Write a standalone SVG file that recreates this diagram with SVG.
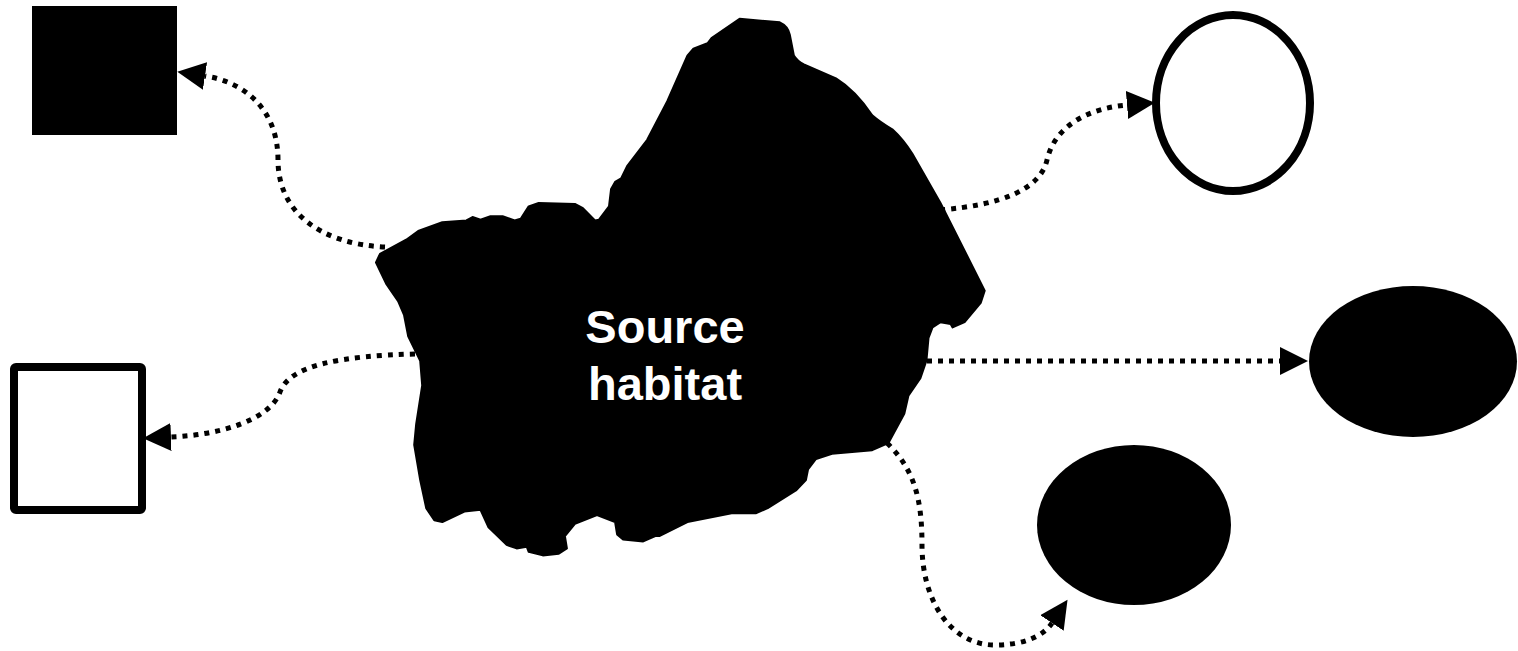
<svg xmlns="http://www.w3.org/2000/svg" width="1518" height="651" viewBox="0 0 1518 651">
<style>
.conn{fill:none;stroke:#000;stroke-width:5;stroke-dasharray:5 6;marker-end:url(#ah)}
.lbl{font-family:"Liberation Sans",Arial,sans-serif;font-weight:bold;font-size:47px;fill:#fff;text-anchor:middle}
</style>
<defs>
<marker id="ah" markerUnits="userSpaceOnUse" markerWidth="30" markerHeight="30" refX="0" refY="14" orient="auto" viewBox="0 0 30 30">
<path d="M0,0 L28,14 L0,28 Z" fill="#000"/>
</marker>
</defs>
<rect width="1518" height="651" fill="#fff"/>
<g id="connectors">
<path class="conn" d="M385,247 C320,244 278,212 278,160 C278,110 245,82 205,76"/>
<path class="conn" d="M415,354 C340,356 290,365 280,392 C270,420 220,435 171,437"/>
<path class="conn" d="M940,210 C1000,205 1040,190 1047,160 C1055,125 1090,108 1127,105"/>
<path class="conn" d="M927,361 L1280,361"/>
<path class="conn" d="M887,443 C915,470 922,500 922,545 C922,600 950,645 995,645 C1020,645 1042,638 1052,623"/>
</g>
<g id="source-habitat">
<path fill="#000" stroke="#000" stroke-width="2" stroke-linejoin="round" d="M739.6,18.8 L779.8,22.3 Q788,26 789.8,34.6 L793.9,55.6 Q797,61 803.9,64.4 L836,78.4 Q855,90 872.2,115.2 Q880,122 892.3,129.3 Q903,139 912.4,153.8 L940.5,202.9 L984.7,290.6 L980.7,302.9 L964.6,322.2 L952.6,327.4 L950.6,323.9 L940.5,322.2 L932.5,327.4 L928.5,338 L926.4,360.8 L920.4,378.3 L908.4,395.8 L904.4,413.4 L888.3,443.2 L872.2,450.2 L832,453.7 L816,459 L808,469.5 L805.9,480 L795.9,490.5 L767.7,508.1 L755.7,513.3 L731.6,513.3 L687.4,522.1 L659.3,536.1 L655.3,536.1 L643.2,541.4 L623.1,539.6 L617.1,534.4 L615.1,522.1 L597,515.1 L574.9,523.8 L564.9,536.1 L566.9,548.4 L558.8,553.7 L542.8,555.4 L528.7,551.9 L526.7,546.7 L516.6,548.4 L506.6,544.9 L488.5,527.4 L480.5,509.8 L464.4,511.6 L442.3,522.1 L434.3,520.3 L426.2,508.1 L420.2,480 L414.2,444.9 L416.2,423.9 L422.2,385.3 L420.2,360.8 L408.2,336.2 L404.1,315.2 L398.1,301.1 L386.1,283.6 L376,262.5 L380,253.8 L406.2,239.7 L418.2,231 L442.3,222.2 L466.4,220.4 L472.5,217 L480.5,219.7 L490.5,216.2 L502.6,216.2 L514.6,220.4 L520.7,218.7 L528.7,206.4 L538.7,202.9 L574.9,204 L582.9,208.2 L595,220.4 L599,219.7 L609,206.4 L611.1,188.9 L615.1,181.9 L621.1,178.4 L627.1,166.1 L647.2,139.8 L667.3,101.2 L687.4,55.6 L693.4,48.6 L707.5,43.3 L711.5,38.1 Z"/>
<text class="lbl" x="665" y="343">Source</text>
<text class="lbl" x="665" y="400">habitat</text>
</g>
<g id="square-filled">
<rect x="32" y="6" width="145" height="129" fill="#000"/>
</g>
<g id="square-open">
<rect x="14" y="367" width="128" height="143" rx="2" fill="#fff" stroke="#000" stroke-width="8" stroke-linejoin="round"/>
</g>
<g id="ellipse-open">
<ellipse cx="1233" cy="103" rx="77" ry="88" fill="#fff" stroke="#000" stroke-width="8"/>
</g>
<g id="ellipse-right">
<ellipse cx="1413" cy="361.5" rx="104" ry="75.5" fill="#000"/>
</g>
<g id="ellipse-bottom">
<ellipse cx="1134" cy="525" rx="97" ry="80" fill="#000"/>
</g>
</svg>
